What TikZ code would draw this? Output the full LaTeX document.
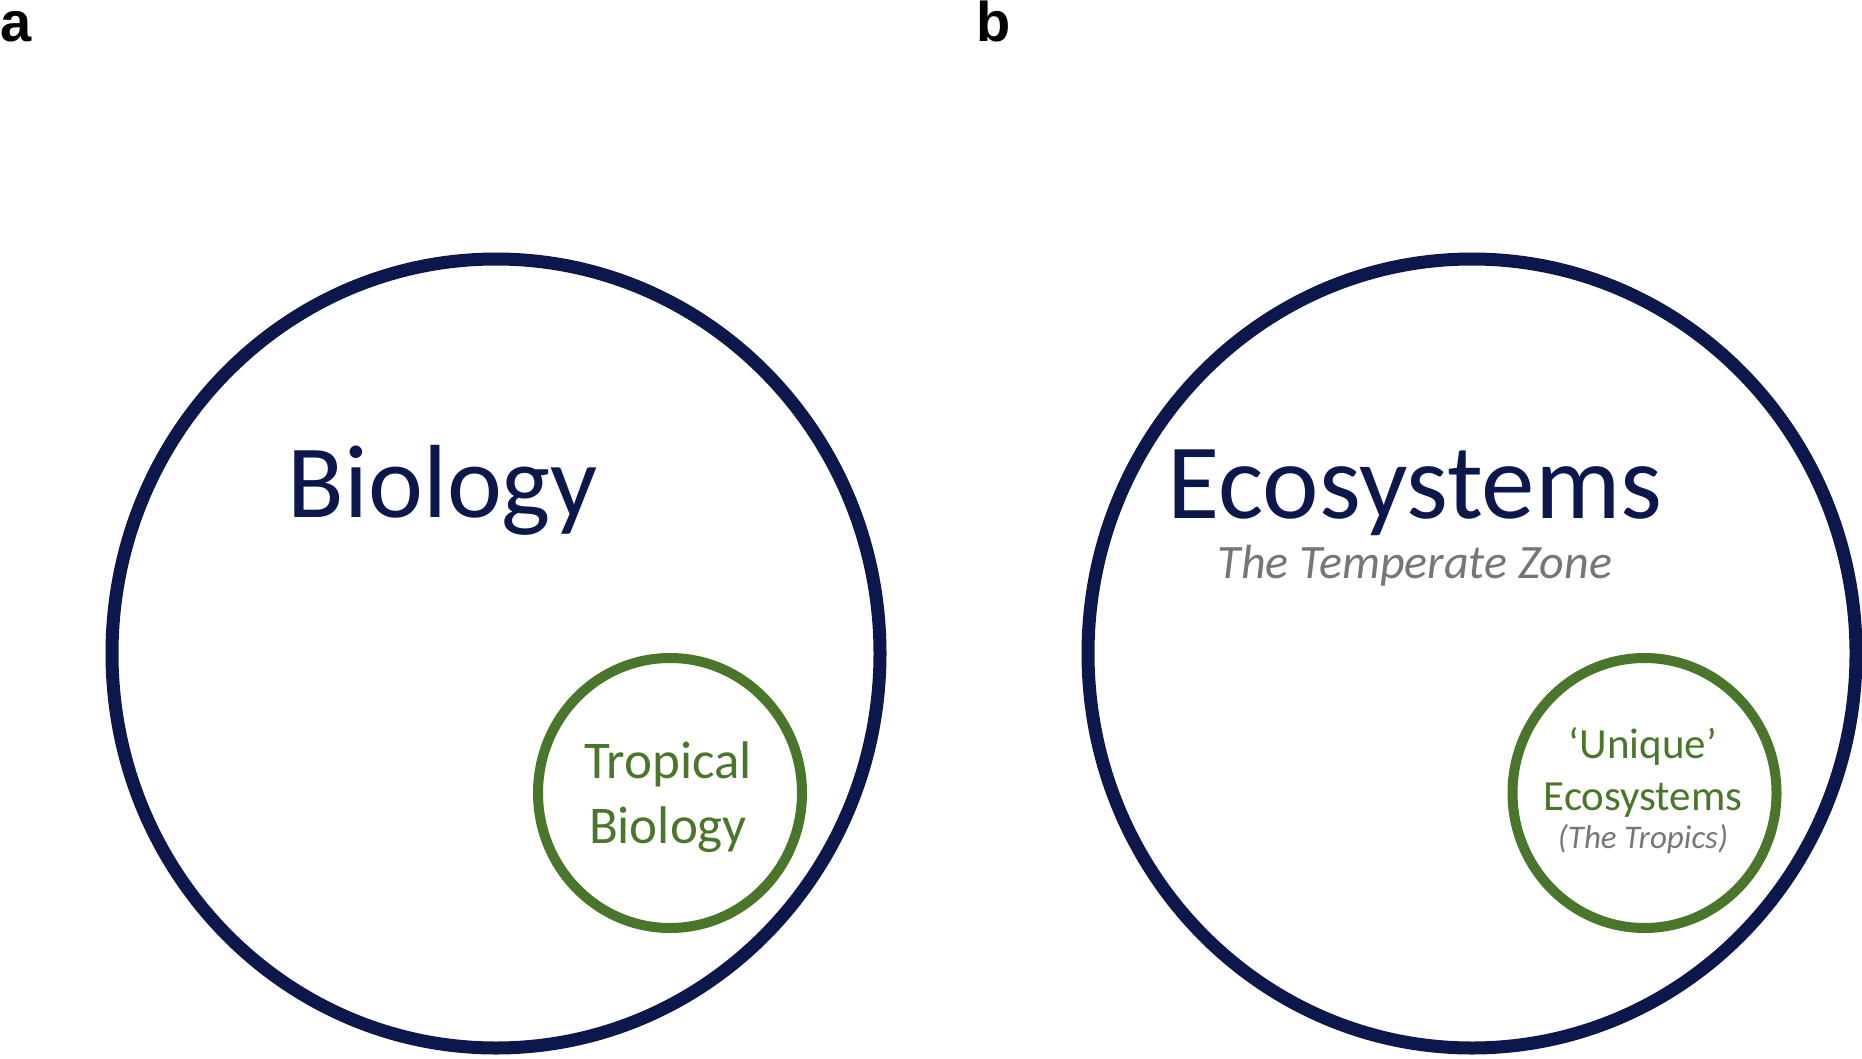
\documentclass[tikz,border=0pt]{standalone}
\usepackage{fontspec}
\setmainfont{Carlito}
\newfontfamily\panelfont{Liberation Sans}
\usetikzlibrary{positioning, shapes.geometric}
\definecolor{navy}{HTML}{0C174B}
\definecolor{leaf}{HTML}{4A762B}
\definecolor{note}{HTML}{767676}
\tikzset{bigring/.style={draw=navy, ellipse, line width=6.5pt, inner sep=0pt, minimum width=384pt, minimum height=394.5pt},
smallring/.style={draw=leaf, ellipse, line width=5pt, inner sep=0pt, minimum width=132pt, minimum height=135pt},
panel/.style={anchor=base west, inner sep=0pt, font=\panelfont\bfseries\fontsize{28}{32}\selectfont},
title/.style={anchor=base, inner sep=0pt, text=navy, font=\fontsize{52}{62}\selectfont},
sub/.style={anchor=base, inner sep=0pt, text=note, font=\itshape\fontsize{24}{28}\selectfont},
inner_t/.style={anchor=base, inner sep=0pt, text=leaf},
tiny_t/.style={anchor=base, inner sep=0pt, text=note, font=\itshape\fontsize{16.5}{19}\selectfont}}

\begin{document}
\begin{tikzpicture}[x=0.5pt, y=-0.5pt]
  \useasboundingbox (0,0) rectangle (1862,1059);
  % panel a
  \node[panel] (pa) at (0,42) {a};
  \node[bigring] (biocirc) at (496,653.5) {};
  \node[smallring] (tropcirc) at (670,793) {};
  \node[title] (biol) at (443,517) {Biology};
  \node[inner_t, font=\fontsize{26.5}{32}\selectfont] (tropl) at (668,778) {Tropical};
  \node[inner_t, font=\fontsize{26.5}{32}\selectfont] (tropb) at (668,843) {Biology};
  % panel b
  \node[panel] (pb) at (976,42) {b};
  \node[bigring] (ecocirc) at (1472,653.5) {};
  \node[smallring] (uniqcirc) at (1644.5,793) {};
  \node[title, font=\fontsize{53.5}{62}\selectfont] (ecol) at (1415,518) {Ecosystems};
  \node[sub] (temp) at (1415,578) {The Temperate Zone};
  \node[inner_t, font=\fontsize{21.5}{25}\selectfont] (uniq) at (1643,758) {‘Unique’};
  \node[inner_t, font=\fontsize{21.5}{25}\selectfont] (uniqe) at (1643,810) {Ecosystems};
  \node[tiny_t] (tropics) at (1643,848) {(The Tropics)};
\end{tikzpicture}
\end{document}
